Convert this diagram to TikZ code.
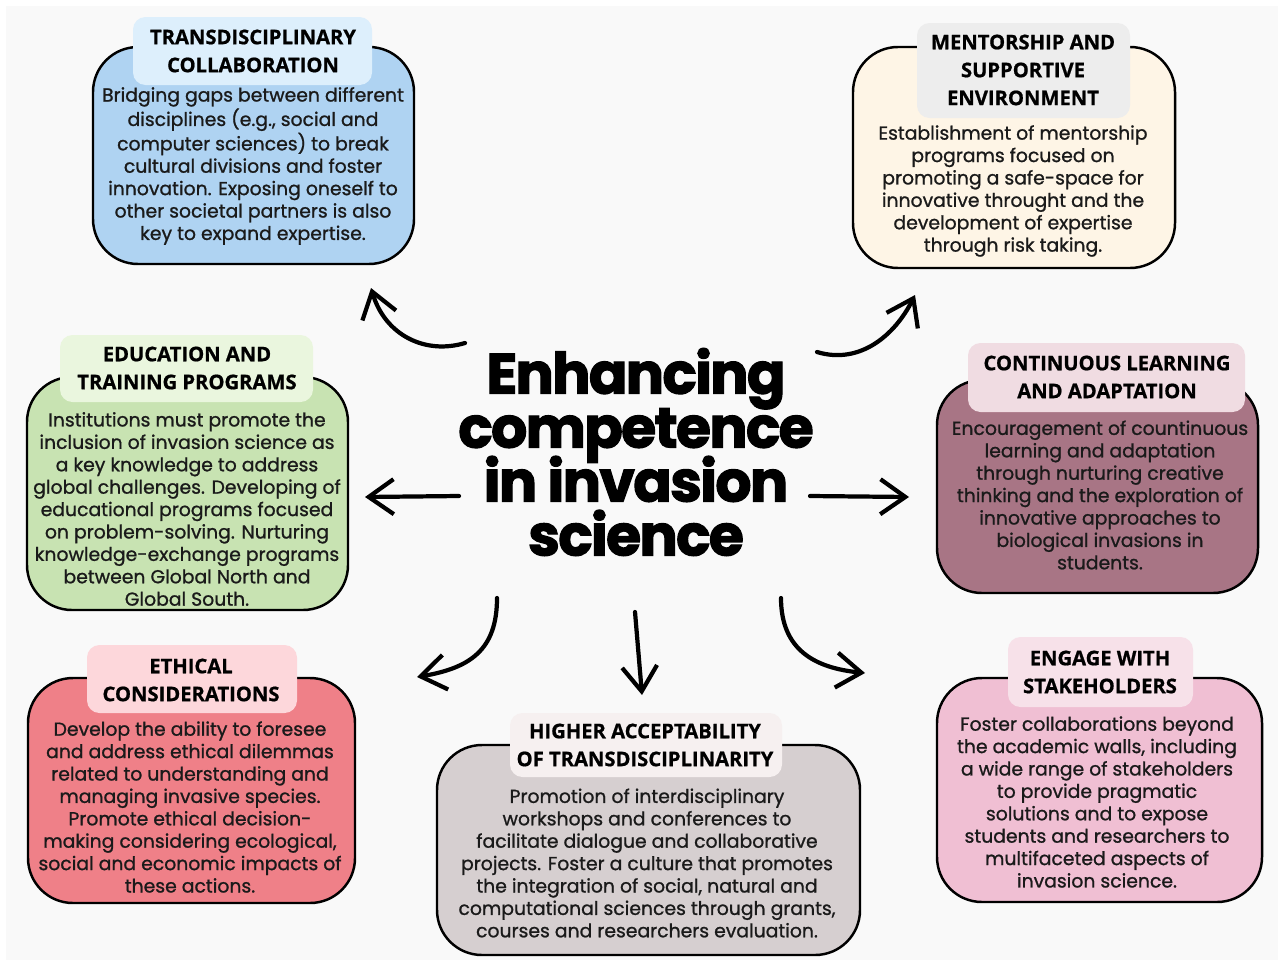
\documentclass[tikz,border=0pt]{standalone}
\usepackage{fontspec}
\usepackage{tikz}
\usetikzlibrary{arrows.meta}

\newfontfamily\titlefont{Poppins}[LetterSpace=-3,FakeBold=2]
\newfontfamily\headfont{Open Sans}[FakeBold=0.8]
\newfontfamily\bodyfont{Poppins}[FakeBold=1]
\newcommand\titlesize{\fontsize{32.4}{30.7}\selectfont\lineskiplimit=-30pt\relax}

\definecolor{paper}{HTML}{F9F9F9}
\definecolor{ink}{HTML}{1A1A1A}
\definecolor{blueC}{HTML}{AFD3F2}
\definecolor{blueT}{HTML}{DDEFFC}
\definecolor{creamC}{HTML}{FEF5E6}
\definecolor{creamT}{HTML}{EDEDED}
\definecolor{greenC}{HTML}{C8E3B2}
\definecolor{greenT}{HTML}{EAF6DE}
\definecolor{mauveC}{HTML}{A87585}
\definecolor{mauveT}{HTML}{F0DCE2}
\definecolor{redC}{HTML}{EF8088}
\definecolor{redT}{HTML}{FDD7DB}
\definecolor{greyC}{HTML}{D6CFD0}
\definecolor{greyT}{HTML}{F6F0F0}
\definecolor{pinkC}{HTML}{F0BFD3}
\definecolor{pinkT}{HTML}{F7E1E9}

\tikzset{
  card/.style={draw=black, line width=1.4pt, rounded corners=0.9cm},
  tabbox/.style={rounded corners=0.25cm},
  headtxt/.style={font=\headfont\bfseries\fontsize{11.5}{15.9}\selectfont, align=center, inner sep=0pt, text=black},
  bodytxt/.style={font=\bodyfont\fontsize{10.7}{12.75}\selectfont, align=center, inner sep=0pt, text=ink},
  titletxt/.style={font={\titlefont\bfseries\titlesize}, align=center, inner sep=0pt, text=black},
  arr/.style={line width=2.4pt, line cap=round, line join=round, -{Straight Barb[length=5mm,width=7mm]}},
}

\begin{document}
\begin{tikzpicture}[x=0.02cm,y=-0.02cm]
      \useasboundingbox (0,0) rectangle (1283,960) ;
      \fill[white] (0,0) rectangle (1283,960) ;
      \fill[paper] (6,6) rectangle (1278,960) ;

      % cards: body first, then the title tab on top of its border
      \draw[card,fill=blueC] (93,47) rectangle (414,264) ;
      \fill[tabbox,blueT] (133,17) rectangle (372,85) ;
      \draw[card,fill=creamC] (853,47) rectangle (1175,268) ;
      \fill[tabbox,creamT] (917,23) rectangle (1130,118) ;
      \draw[card,fill=greenC] (27,377) rectangle (348,610) ;
      \fill[tabbox,greenT] (60,335) rectangle (313,402) ;
      \draw[card,fill=mauveC] (937,380) rectangle (1258,593) ;
      \fill[tabbox,mauveT] (968,343) rectangle (1245,412) ;
      \draw[card,fill=redC] (28,678) rectangle (355,903) ;
      \fill[tabbox,redT] (87,645) rectangle (297,713) ;
      \draw[card,fill=greyC] (437,745) rectangle (860,955) ;
      \fill[tabbox,greyT] (510,713) rectangle (782,777) ;
      \draw[card,fill=pinkC] (937,678) rectangle (1262,902) ;
      \fill[tabbox,pinkT] (1008,637) rectangle (1193,707) ;

      % headings
      \node[headtxt] (transH) at (253,51) {TRANSDISCIPLINARY\\COLLABORATION} ;
      \node[headtxt] (mentorH) at (1023,70) {MENTORSHIP AND\\SUPPORTIVE\\ENVIRONMENT} ;
      \node[headtxt] (eduH) at (187,368) {EDUCATION AND\\TRAINING PROGRAMS} ;
      \node[headtxt] (learnH) at (1107,377) {CONTINUOUS LEARNING\\AND ADAPTATION} ;
      \node[headtxt] (ethicH) at (191,680) {ETHICAL\\CONSIDERATIONS} ;
      \node[headtxt] (accepH) at (645,745) {HIGHER ACCEPTABILITY\\OF TRANSDISCIPLINARITY} ;
      \node[headtxt] (stakeH) at (1100,672) {ENGAGE WITH\\STAKEHOLDERS} ;

      % texts
      \node[bodytxt] (trans) at (253,166) {Bridging gaps between different\\disciplines (e.g., social and\\computer sciences) to break\\cultural divisions and foster\\innovation. Exposing oneself to\\other societal partners is also\\key to expand expertise.} ;
      \node[bodytxt] (mentor) at (1013,191) {Establishment of mentorship\\programs focused on\\promoting a safe-space for\\innovative throught and the\\development of expertise\\through risk taking.} ;
      \node[bodytxt] (edu) at (187,509) {Institutions must promote the\\inclusion of invasion science as\\a key knowledge to address\\global challenges. Developing of\\educational programs focused\\on problem-solving. Nurturing\\knowledge-exchange programs\\between Global North and\\Global South.} ;
      \node[bodytxt] (learn) at (1100,495) {Encouragement of countinuous\\learning and adaptation\\through nurturing creative\\thinking and the exploration of\\innovative approaches to\\biological invasions in\\students.} ;
      \node[bodytxt] (ethic) at (190,807) {Develop the ability to foresee\\and address ethical dilemmas\\related to understanding and\\managing invasive species.\\Promote ethical decision-\\making considering ecological,\\social and economic impacts of\\these actions.} ;
      \node[bodytxt] (accep) at (647,863) {Promotion of interdisciplinary\\workshops and conferences to\\facilitate dialogue and collaborative\\projects. Foster a culture that promotes\\the integration of social, natural and\\computational sciences through grants,\\courses and researchers evaluation.} ;
      \node[bodytxt] (stake) at (1097,802) {Foster collaborations beyond\\the academic walls, including\\a wide range of stakeholders\\to provide pragmatic\\solutions and to expose\\students and researchers to\\multifaceted aspects of\\invasion science.} ;

      % centre
      \node[titletxt] (ttl) at (636,452) {Enhancing\\competence\\in invasion\\science} ;

      % arrow ends
      \coordinate (sTL) at (465,343) ; \coordinate (eTL) at (371,288) ;
      \coordinate (sTR) at (817,352) ; \coordinate (eTR) at (915,295) ;
      \coordinate (sL) at (459,496) ; \coordinate (eL) at (365,497) ;
      \coordinate (sR) at (810,496) ; \coordinate (eR) at (909,497) ;
      \coordinate (sBL) at (497,598) ; \coordinate (eBL) at (417,677) ;
      \coordinate (sB) at (635,612) ; \coordinate (eB) at (642,695) ;
      \coordinate (sBR) at (781,598) ; \coordinate (eBR) at (865,673) ;

      \draw[arr] (sTL) .. controls (425,355) and (385,335) .. (eTL) ;
      \draw[arr] (sTR) .. controls (860,365) and (895,335) .. (eTR) ;
      \draw[arr] (sL) -- (eL) ;
      \draw[arr] (sR) -- (eR) ;
      \draw[arr] (sBL) .. controls (497,650) and (470,668) .. (eBL) ;
      \draw[arr] (sB) -- (eB) ;
      \draw[arr] (sBR) .. controls (781,650) and (815,668) .. (eBR) ;
\end{tikzpicture}
\end{document}
